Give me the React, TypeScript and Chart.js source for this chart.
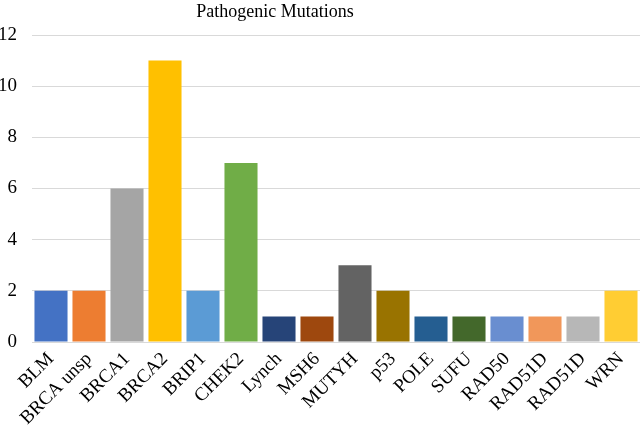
import React, { useEffect, useRef } from "react";
import { Chart, registerables } from "chart.js";

Chart.register(...registerables);

const titleText = "Pathogenic Mutations";
const categories = [
  "BLM", "BRCA unsp", "BRCA1", "BRCA2", "BRIP1", "CHEK2", "Lynch", "MSH6",
  "MUTYH", "p53", "POLE", "SUFU", "RAD50", "RAD51D", "RAD51D", "WRN",
];
const values = [2, 2, 6, 11, 2, 7, 1, 1, 3, 2, 1, 1, 1, 1, 1, 2];
const barColors = [
  "#4472C4", "#ED7D31", "#A5A5A5", "#FFC000", "#5B9BD5", "#70AD47",
  "#264478", "#9E480E", "#636363", "#997300", "#255E91", "#43682B",
  "#698ED0", "#F1975A", "#B7B7B7", "#FFCD33",
];

const FONT = "'Liberation Serif', 'Times New Roman', serif";

const titlePlugin = {
  id: "offsetTitle",
  afterDraw(chart: any) {
    const ctx = chart.ctx;
    ctx.save();
    ctx.font = `18px ${FONT}`;
    ctx.fillStyle = "#000000";
    ctx.textAlign = "center";
    ctx.textBaseline = "middle";
    ctx.fillText(titleText, 275, 12);
    ctx.restore();
  },
};

export default function App() {
  const ref = useRef<HTMLCanvasElement | null>(null);
  useEffect(() => {
    document.body.style.margin = "0";
    if (!ref.current) return;
    const chart = new Chart(ref.current, {
      type: "bar",
      data: {
        labels: categories,
        datasets: [
          {
            data: values,
            backgroundColor: barColors,
            borderWidth: 0,
            barPercentage: 0.87,
            categoryPercentage: 1,
          },
        ],
      },
      options: {
        animation: false,
        responsive: true,
        maintainAspectRatio: false,
        layout: { padding: { top: 35, right: 0, left: 0, bottom: 0 } },
        plugins: {
          legend: { display: false },
          title: { display: false },
          tooltip: { enabled: false },
        },
        scales: {
          x: {
            grid: { display: false, drawTicks: false },
            border: { display: false },
            ticks: {
              color: "#000000",
              font: { family: FONT, size: 19 },
              minRotation: 45,
              maxRotation: 45,
              autoSkip: false,
              padding: 6,
            },
            afterFit(scale: any) {
              scale.height = 87;
              scale.paddingLeft = 0;
              scale.paddingRight = 0;
            },
          },
          y: {
            min: 0,
            max: 12,
            grid: { color: "#d9d9d9", lineWidth: 1, drawTicks: false },
            border: { display: false },
            ticks: {
              stepSize: 2,
              color: "#000000",
              font: { family: FONT, size: 19 },
              padding: 15,
            },
            afterFit(scale: any) {
              scale.width = 32;
              scale.paddingTop = 0;
              scale.paddingBottom = 0;
            },
          },
        },
      },
      plugins: [titlePlugin],
    });
    return () => chart.destroy();
  }, []);
  return (
    <div style={{ width: 640, height: 429, position: "relative" }}>
      <canvas ref={ref} />
    </div>
  );
}
